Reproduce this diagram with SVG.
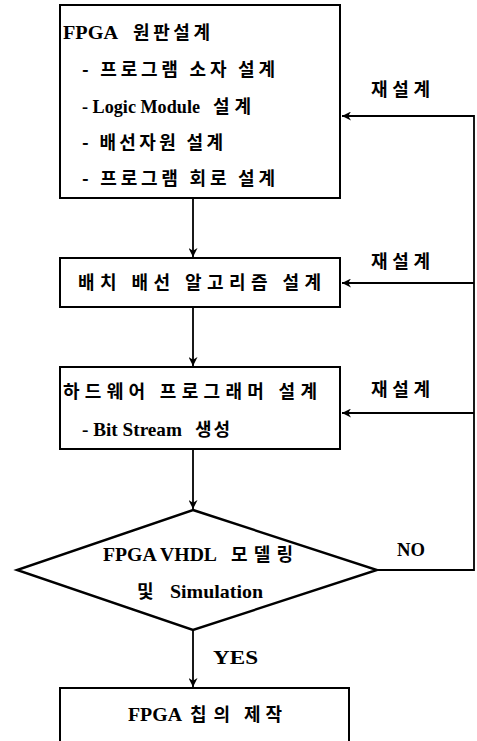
<svg xmlns="http://www.w3.org/2000/svg" width="477" height="741" viewBox="0 0 477 741">
<style>
.box{fill:#fff;stroke:#000;stroke-width:2}
.dia{fill:#fff;stroke:#000;stroke-width:2.4;stroke-linejoin:miter}
.con{fill:none;stroke:#000;stroke-width:1.8}
text{font-family:"Liberation Serif","Noto Sans CJK KR",serif;font-weight:bold;font-size:19px;fill:#000}
.k{font-family:"Noto Sans CJK KR","Liberation Sans",sans-serif;font-size:18px}
</style>
<defs>
<marker id="ah" viewBox="0 0 10 10" refX="10" refY="5" markerWidth="9" markerHeight="9" markerUnits="userSpaceOnUse" orient="auto">
<path d="M0,0 L10,5 L0,10 L3,5 Z" fill="#000"/>
</marker>
</defs>
<rect width="477" height="741" fill="#fff"/>
<g id="connectors">
<line class="con" x1="193" y1="198" x2="193" y2="257" marker-end="url(#ah)"/>
<line class="con" x1="193" y1="307" x2="193" y2="366" marker-end="url(#ah)"/>
<line class="con" x1="193" y1="449" x2="193" y2="509" marker-end="url(#ah)"/>
<line class="con" x1="193" y1="630" x2="193" y2="687" marker-end="url(#ah)"/>
<path class="con" d="M377,570 H474 V116 H342" marker-end="url(#ah)"/>
<line class="con" x1="474" y1="283" x2="342" y2="283" marker-end="url(#ah)"/>
<line class="con" x1="474" y1="413" x2="342" y2="413" marker-end="url(#ah)"/>
<text x="371" y="96" class="k" textLength="59" lengthAdjust="spacing">재설계</text>
<text x="371" y="268" class="k" textLength="59" lengthAdjust="spacing">재설계</text>
<text x="371" y="396" class="k" textLength="59" lengthAdjust="spacing">재설계</text>
<text x="397" y="556" textLength="28" lengthAdjust="spacingAndGlyphs">NO</text>
<text x="213" y="664" textLength="45" lengthAdjust="spacingAndGlyphs">YES</text>
</g>
<g id="n1">
<rect class="box" x="60" y="5" width="280" height="193"/>
<text x="63" y="39" textLength="55" lengthAdjust="spacingAndGlyphs">FPGA</text>
<text x="133" y="39" class="k" textLength="77" lengthAdjust="spacing">원판설계</text>
<text x="82" y="76" class="k" textLength="193" lengthAdjust="spacing">- 프로그램 소자 설계</text>
<text x="82" y="113" textLength="118" lengthAdjust="spacingAndGlyphs">- Logic Module</text>
<text x="213" y="113" class="k" textLength="38" lengthAdjust="spacing">설계</text>
<text x="82" y="149" class="k" textLength="141" lengthAdjust="spacing">- 배선자원 설계</text>
<text x="82" y="185" class="k" textLength="193" lengthAdjust="spacing">- 프로그램 회로 설계</text>
</g>
<g id="n2">
<rect class="box" x="60" y="258" width="280" height="49"/>
<text x="78" y="289" class="k" textLength="243" lengthAdjust="spacing">배치 배선 알고리즘 설계</text>
</g>
<g id="n3">
<rect class="box" x="60" y="367" width="280" height="82"/>
<text x="63" y="398" class="k" textLength="254" lengthAdjust="spacing">하드웨어 프로그래머 설계</text>
<text x="82" y="436" textLength="100" lengthAdjust="spacingAndGlyphs">- Bit Stream</text>
<text x="195" y="436" class="k" textLength="35" lengthAdjust="spacing">생성</text>
</g>
<g id="n4">
<polygon class="dia" points="193,510 377,570 193,630 17,570"/>
<text x="103" y="561" textLength="114" lengthAdjust="spacingAndGlyphs">FPGA VHDL</text>
<text x="231" y="561" class="k" textLength="62" lengthAdjust="spacing">모델링</text>
<text x="137" y="598" class="k">및</text>
<text x="170" y="598" textLength="93" lengthAdjust="spacingAndGlyphs">Simulation</text>
</g>
<g id="n5">
<rect class="box" x="60" y="688" width="289" height="62"/>
<text x="128" y="721" textLength="54" lengthAdjust="spacingAndGlyphs">FPGA</text>
<text x="190" y="721" class="k" textLength="40" lengthAdjust="spacing">칩의</text>
<text x="244" y="721" class="k" textLength="38" lengthAdjust="spacing">제작</text>
</g>
</svg>
